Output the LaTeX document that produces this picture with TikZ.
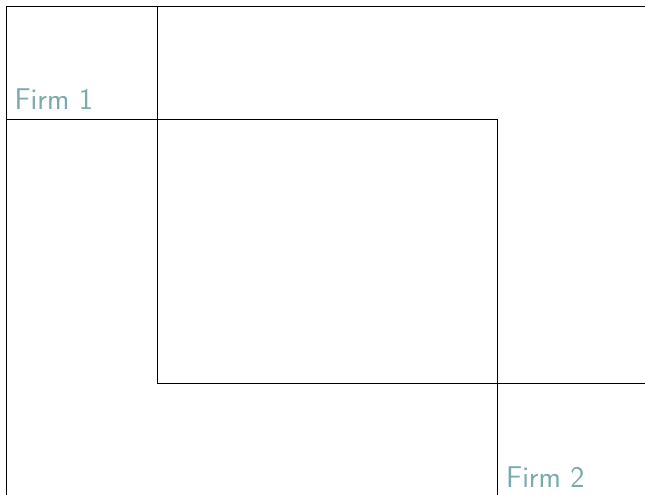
\documentclass[tikz,border=0pt]{standalone}
\definecolor{firmteal}{RGB}{122,170,173}
\tikzset{boxline/.style={draw=black,line width=1pt},
firmlabel/.style={text=firmteal,font=\sffamily\fontsize{30}{36}\selectfont,inner sep=0pt,anchor=base west}}
\begin{document}
\begin{tikzpicture}[x=1pt,y=-1pt]
\useasboundingbox (0,0) rectangle (645,495);
\clip (0,0) rectangle (645,495);
\draw[boxline] (6.5,500) -- (6.5,6.5) -- (650,6.5);
\draw[boxline] (157,6.5) -- (157,383) -- (650,383);
\draw[boxline] (6.5,119) -- (497,119) -- (497,500);
\node[firmlabel] (f1) at (14.5,109) {Firm 1};
\node[firmlabel] (f2) at (506,487) {Firm 2};
\end{tikzpicture}
\end{document}
